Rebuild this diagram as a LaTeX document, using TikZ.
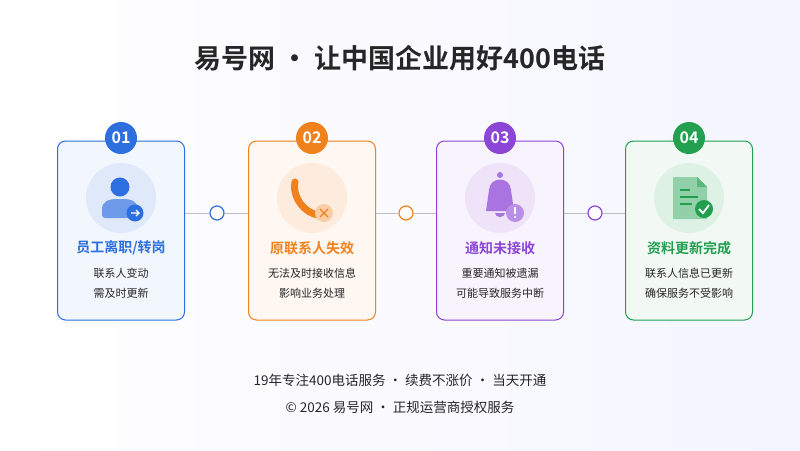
\documentclass[tikz,border=0pt]{standalone}
\usepackage{fontspec}
\setmainfont{Noto Sans CJK SC}
\newfontfamily\cjkb{Noto Sans CJK SC Bold}
\begin{document}
\begin{tikzpicture}[x=1pt,y=-1pt,
 card/.style={draw=#1,line width=1pt,rounded corners=8pt,minimum width=127pt,minimum height=179pt},
 badge/.style={circle,fill=#1,minimum size=32pt,inner sep=0pt,text=white,font=\cjkb\fontsize{16}{16}\selectfont},
 halo/.style={circle,minimum size=70pt,inner sep=0pt},
 dot/.style={circle,draw=#1,line width=1.2pt,fill=white,minimum size=14pt,inner sep=0pt},
 ttl/.style={font=\cjkb\fontsize{14}{15}\selectfont,text=#1},
 sub/.style={font=\fontsize{11}{20}\selectfont,text=black!85}]
\useasboundingbox (0,0) rectangle (800,450);
\shade[left color=white,right color=blue!4] (0,0) rectangle (800,450);
\node[font=\cjkb\fontsize{27}{29}\selectfont,text=black!85] (title) at (400,58) {易号网 · 让中国企业用好400电话};
\definecolor{cb}{HTML}{2E6FE0}\definecolor{co}{HTML}{F0821E}
\definecolor{cp}{HTML}{8C45D6}\definecolor{cg}{HTML}{22A050}
\foreach \i/\x/\c in {1/121/cb,2/312/co,3/500/cp,4/689/cg}{
 \node[card=\c,fill=\c!6] (c\i) at (\x,230.5) {};
 \node[badge=\c] (b\i) at (\x,138) {0\i};
 \node[halo,fill=\c!15] (h\i) at (\x,198) {};
}
\foreach \a/\b/\x/\c in {1/2/217/cb,2/3/406/co,3/4/595/cp}{
 \node[dot=\c] (d\a) at (\x,213) {};
 \draw[black!25,line width=1pt] (c\a.east|-d\a) -- (d\a) -- (c\b.west|-d\a);
}
% icon 1: person
\fill[cb] (120,187) circle (9.5);
\fill[cb!70,rounded corners=3pt] (102,218) -- (102,212) .. controls (102,202) and (108,199) .. (120,199) .. controls (132,199) and (138,202) .. (138,212) -- (138,218) -- cycle;
\fill[cb] (135,213) circle (8.5);
\draw[white,line width=1.3pt] (131,213) -- (139,213) (136,210)--(139,213)--(136,216);
% icon 2: phone
\draw[co,line width=7pt,line cap=round] (295,182) .. controls (292,198) and (305,213) .. (318,215);
\fill[co!40] (324,213) circle (9);
\draw[co,line width=1.2pt] (320,209)--(328,217) (328,209)--(320,217);
% icon 3: bell
\fill[cp!75] (486,211) -- (489,190) .. controls (490,176) and (510,176) .. (511,190) -- (514,211) -- cycle;
\fill[cp!75] (500,175) circle (3);\fill[cp!75] (495,213) arc(180:0:5 and 4);
\fill[cp!60] (515,213) circle (9);
\fill[white] (514,207) rectangle (516,214); \fill[white] (515,217) circle (1.2);
% icon 4: doc
\fill[cg!50] (673,177) -- (697,177) -- (707,187) -- (707,219) -- (673,219) -- cycle;
\fill[cg!75] (697,177) -- (707,187) -- (697,187) -- cycle;
\draw[cg,line width=1.5pt] (680,190)--(690,190) (680,197)--(698,197) (680,204)--(692,204);
\fill[cg] (704,209) circle (9);
\draw[white,line width=1.8pt] (699,209)--(703,213)--(709,205);
% texts
\node[ttl=cb] (t1) at (121,248) {员工离职/转岗};
\node[ttl=co] (t2) at (312,248) {原联系人失效};
\node[ttl=cp] (t3) at (500,248) {通知未接收};
\node[ttl=cg] (t4) at (689,248) {资料更新完成};
\node[sub,align=center] (s1) at (121,283) {联系人变动\\需及时更新};
\node[sub,align=center] (s2) at (312,283) {无法及时接收信息\\影响业务处理};
\node[sub,align=center] (s3) at (500,283) {重要通知被遗漏\\可能导致服务中断};
\node[sub,align=center] (s4) at (689,283) {联系人信息已更新\\确保服务不受影响};
\node[font=\fontsize{13.5}{14}\selectfont,text=black!85] (f1) at (400,380) {19年专注400电话服务 · 续费不涨价 · 当天开通};
\node[font=\fontsize{13.5}{14}\selectfont,text=black!85] (f2) at (400,407) {© 2026 易号网 · 正规运营商授权服务};
\end{tikzpicture}
\end{document}
